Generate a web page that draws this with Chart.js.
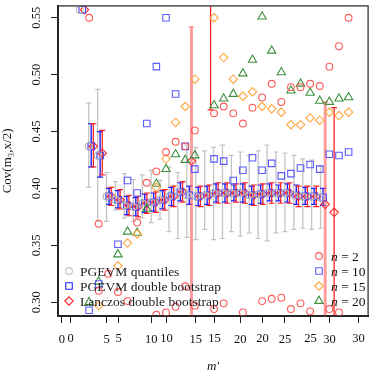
<!DOCTYPE html>
<html>
<head>
<meta charset="utf-8">
<script src="https://cdn.jsdelivr.net/npm/chart.js@4.4.1/dist/chart.umd.min.js"></script>
<style>
  html, body { margin: 0; padding: 0; background: #fff; }
</style>
</head>
<body>
<canvas id="chart" width="374" height="374"></canvas>
<script>
// error-bar plot, indexed by m' (lower axis, first set of ticks)
const mPrime    = [2, 3, 4, 5, 6, 7, 8, 9, 10, 11, 12, 13, 14, 15, 16, 17, 18, 19, 20, 21, 22, 23, 24, 25, 26, 27, 28, 29, 30];
const quantEst  = [0.557, 0.437, 0.429, 0.393, 0.390, 0.385, 0.384, 0.387, 0.388, 0.390, 0.393, 0.397, 0.394, 0.393, 0.394, 0.396, 0.396, 0.396, 0.396, 0.394, 0.395, 0.396, 0.396, 0.396, 0.394, 0.393, 0.393, 0.392, null];
const quantLo   = [null, 0.401, 0.371, 0.371, 0.381, 0.374, 0.371, 0.374, 0.370, 0.373, 0.362, 0.356, 0.357, 0.355, 0.364, 0.355, 0.356, 0.362, 0.358, 0.361, 0.356, 0.354, 0.361, 0.362, 0.364, 0.365, 0.364, 0.365, null];
const quantHi   = [null, 0.475, 0.487, 0.414, 0.406, 0.413, 0.408, 0.412, 0.416, 0.407, 0.419, 0.414, 0.438, 0.436, 0.433, 0.436, 0.438, 0.429, 0.432, 0.429, 0.433, 0.438, 0.432, 0.431, 0.429, 0.426, 0.425, 0.420, null];
const bootEst   = [0.557, 0.437, 0.429, 0.393, 0.390, 0.385, 0.384, 0.387, 0.388, 0.390, 0.393, 0.397, 0.394, 0.393, 0.394, 0.396, 0.396, 0.396, 0.396, 0.394, 0.395, 0.396, 0.396, 0.396, 0.394, 0.393, 0.393, 0.392, null];
const bootLo    = [null, 0.419, 0.410, 0.386, 0.383, 0.377, 0.376, 0.379, 0.380, 0.382, 0.385, 0.389, 0.386, 0.385, 0.386, 0.388, 0.388, 0.389, 0.388, 0.386, 0.387, 0.389, 0.389, 0.388, 0.386, 0.386, 0.386, 0.385, null];
const bootHi    = [null, 0.457, 0.450, 0.400, 0.398, 0.393, 0.392, 0.395, 0.396, 0.398, 0.401, 0.405, 0.402, 0.401, 0.402, 0.404, 0.404, 0.403, 0.404, 0.402, 0.403, 0.404, 0.403, 0.404, 0.403, 0.401, 0.400, 0.400, 0.399, null];
const lanEst    = [0.557, 0.437, 0.431, 0.393, 0.390, 0.385, 0.384, 0.387, 0.388, 0.390, 0.393, 0.397, 0.424, 0.393, 0.394, 0.396, 0.396, 0.396, 0.396, 0.394, 0.395, 0.396, 0.396, 0.396, 0.393, 0.393, 0.393, 0.386, 0.379];
const lanLo     = [null, 0.419, 0.412, 0.385, 0.382, 0.376, 0.375, 0.378, 0.379, 0.381, 0.384, 0.388, 0.250, 0.384, 0.385, 0.387, 0.387, 0.388, 0.387, 0.385, 0.386, 0.387, 0.387, 0.387, 0.384, 0.384, 0.384, 0.250, 0.250];
const lanHi     = [null, 0.457, 0.451, 0.401, 0.399, 0.394, 0.393, 0.396, 0.397, 0.399, 0.402, 0.406, 0.542, 0.402, 0.403, 0.405, 0.405, 0.404, 0.405, 0.403, 0.404, 0.405, 0.405, 0.405, 0.402, 0.402, 0.402, 0.476, 0.471];
const strayX    = [16.67];
const strayLo   = [0.469];
const strayHi   = [0.600];

// scatter plot, indexed by m (lower axis, second set of ticks)
const mVals  = [2, 3, 4, 5, 6, 7, 8, 9, 10, 11, 12, 13, 14, 15, 16, 17, 18, 19, 20, 21, 22, 23, 24, 25, 26, 27, 28, 29];
const n2     = [0.550, 0.369, 0.325, 0.309, 0.301, 0.370, 0.405, 0.415, 0.432, 0.441, 0.437, 0.451, null, 0.466, 0.472, 0.466, 0.457, 0.471, 0.480, 0.492, 0.476, 0.489, 0.489, 0.492, 0.490, 0.507, 0.525, 0.550];
const n2LowM = [3, 9, 10, 11, 12, 13, 15, 16, 18, 20, 21, 22, 23, 24, 25, 27, 28];
const n2Low  = [0.310, 0.289, 0.291, 0.296, 0.314, 0.297, 0.294, 0.299, 0.291, 0.301, 0.303, 0.304, 0.294, 0.299, 0.292, 0.294, 0.291];
const n10    = [0.293, 0.316, null, 0.351, 0.407, 0.396, 0.457, 0.507, 0.550, 0.483, 0.437, 0.417, null, 0.426, 0.424, 0.407, 0.416, 0.427, 0.416, 0.422, 0.411, 0.413, 0.418, 0.421, 0.417, 0.430, 0.429, 0.432];
const n15    = [null, 0.297, null, 0.332, 0.352, 0.360, null, 0.401, 0.426, 0.458, 0.472, 0.496, null, 0.550, 0.515, 0.496, 0.481, 0.485, 0.472, 0.470, 0.467, 0.456, 0.456, 0.462, 0.460, 0.467, 0.464, 0.467];
const n20    = [0.300, 0.318, null, 0.342, 0.362, 0.361, 0.382, 0.404, 0.417, 0.430, 0.425, 0.429, null, 0.473, 0.479, 0.483, 0.501, 0.513, 0.551, 0.521, 0.502, 0.486, 0.492, 0.484, 0.477, 0.476, 0.479, 0.480];

const xTicks  = [0, 5, 10, 15, 20, 25, 30];
const yTicks  = [0.30, 0.35, 0.40, 0.45, 0.50, 0.55];
const legendA = ['PGEVM quantiles', 'PGEVM double bootstrap', 'Lanczos double bootstrap'];
const legendB = ['2', '10', '15', '20'];

const SERIF = "'Liberation Serif', 'DejaVu Serif', serif";
const C = {
    n2: '#ff5a5a', n10: '#5a5aff', n15: '#ffa640', n20: '#3d8f3d',
    quant: '#c4c4c4', boot: '#1f1fff', lan: '#ff2424', pink: 'rgba(255,90,90,0.6)'
};
const dodge = { quant: 0, boot: 0.28, lan: 0.52 };
const pinkBars = [14, 29];

const pts = (xs, ys, dx) => xs.map((x, i) => ys[i] == null ? null : { x: x + (dx || 0), y: ys[i] }).filter(Boolean);

function sDs(label, data, color, style, r, xAxisID) {
    return {
        label, data, xAxisID, yAxisID: 'y',
        pointStyle: style, pointRadius: r, pointHoverRadius: r,
        borderColor: color, backgroundColor: 'rgba(0,0,0,0)', pointBorderWidth: 1.1
    };
}

const errorBars = {
    id: 'errorBars',
    beforeDatasetsDraw(chart) {
        const { ctx, chartArea: a } = chart;
        const xs = chart.scales.x, ys = chart.scales.y;
        ctx.save();
        ctx.beginPath();
        ctx.rect(a.left, a.top, a.right - a.left, a.bottom - a.top);
        ctx.clip();
        const bar = (xv, lo, hi, color, w, cap) => {
            const px = xs.getPixelForValue(xv);
            const p1 = ys.getPixelForValue(lo), p2 = ys.getPixelForValue(hi);
            ctx.strokeStyle = color;
            ctx.lineWidth = w;
            ctx.beginPath();
            ctx.moveTo(px, p1); ctx.lineTo(px, p2);
            ctx.stroke();
            ctx.lineWidth = 1.2;
            ctx.beginPath();
            ctx.moveTo(px - cap, p1); ctx.lineTo(px + cap, p1);
            ctx.moveTo(px - cap, p2); ctx.lineTo(px + cap, p2);
            ctx.stroke();
        };
        mPrime.forEach((m, i) => {
            if (quantLo[i] != null) bar(m + dodge.quant, quantLo[i], quantHi[i], C.quant, 1.3, 2.5);
        });
        mPrime.forEach((m, i) => {
            if (bootLo[i] != null) bar(m + dodge.boot, bootLo[i], bootHi[i], C.boot, 1.4, 3);
        });
        mPrime.forEach((m, i) => {
            if (lanLo[i] == null) return;
            if (pinkBars.includes(m)) bar(m + dodge.lan, lanLo[i], lanHi[i], C.pink, 3, 3);
            else bar(m + dodge.lan, lanLo[i], lanHi[i], C.lan, 1.3, 3);
        });
        strayX.forEach((x, i) => bar(x, strayLo[i], strayHi[i], C.lan, 1.3, 3));
        ctx.restore();
    }
};

const decor = {
    id: 'decor',
    afterDraw(chart) {
        const { ctx, chartArea: a } = chart;
        const xb = chart.scales.xB, ys = chart.scales.y;
        const H = Chart.helpers;
        ctx.save();
        // frame
        ctx.strokeStyle = '#333';
        ctx.lineWidth = 1.3;
        ctx.strokeRect(a.left, a.top, a.right - a.left, a.bottom - a.top);
        // second set of x ticks
        ctx.fillStyle = '#111';
        ctx.strokeStyle = '#222';
        ctx.lineWidth = 1;
        ctx.font = '12.5px ' + SERIF;
        ctx.textAlign = 'center';
        ctx.textBaseline = 'top';
        xTicks.forEach(v => {
            const px = Math.round(xb.getPixelForValue(v)) + 0.5;
            ctx.beginPath();
            ctx.moveTo(px, a.bottom); ctx.lineTo(px, a.bottom + 7);
            ctx.stroke();
            ctx.fillText(String(v), px, a.bottom + 16);
        });
        // rotated y tick labels
        ctx.textBaseline = 'middle';
        yTicks.forEach(v => {
            ctx.save();
            ctx.translate(37, ys.getPixelForValue(v));
            ctx.rotate(-Math.PI / 2);
            ctx.fillText(v.toFixed(2), 0, 0);
            ctx.restore();
        });
        // legend, bottom left
        ctx.textAlign = 'left';
        ctx.font = '13.5px ' + SERIF;
        const styA = [['circle', C.quant, 3.4], ['rect', C.boot, 4.6], ['rectRot', C.lan, 4.2]];
        legendA.forEach((t, i) => {
            const y = 271 + i * 15;
            ctx.strokeStyle = styA[i][1];
            ctx.fillStyle = 'rgba(0,0,0,0)';
            ctx.lineWidth = 1.1;
            H.drawPoint(ctx, { pointStyle: styA[i][0], radius: styA[i][2], borderWidth: 1.1 }, 69, y);
            ctx.fillStyle = '#222';
            ctx.fillText(t, 80, y + 1);
        });
        // legend, bottom right
        const styB = [['circle', C.n2, 3.4], ['rect', C.n10, 4.6], ['rectRot', C.n15, 4.2], ['triangle', C.n20, 4.8]];
        legendB.forEach((t, i) => {
            const y = 256 + i * 15;
            ctx.strokeStyle = styB[i][1];
            ctx.fillStyle = 'rgba(0,0,0,0)';
            ctx.lineWidth = 1.1;
            H.drawPoint(ctx, { pointStyle: styB[i][0], radius: styB[i][2], borderWidth: 1.1 }, 319, y);
            ctx.fillStyle = '#111';
            ctx.font = 'italic 13.5px ' + SERIF;
            ctx.fillText('n', 331, y + 1);
            const w = ctx.measureText('n').width;
            ctx.font = '13.5px ' + SERIF;
            ctx.fillText(' = ' + t, 331 + w, y + 1);
        });
        ctx.restore();
    }
};

const axisGrid = { drawOnChartArea: false, drawTicks: true, tickLength: 7, color: '#222', tickWidth: 1 };

new Chart(document.getElementById('chart'), {
    type: 'scatter',
    data: {
        datasets: [
            sDs('n = 2', pts(mVals, n2).concat(pts(n2LowM, n2Low)), C.n2, 'circle', 3.4, 'xB'),
            sDs('n = 10', pts(mVals, n10), C.n10, 'rect', 4.6, 'xB'),
            sDs('n = 15', pts(mVals, n15), C.n15, 'rectRot', 4.2, 'xB'),
            sDs('n = 20', pts(mVals, n20), C.n20, 'triangle', 4.8, 'xB'),
            sDs(legendA[0], pts(mPrime, quantEst, dodge.quant), '#b4b4b4', 'circle', 3.4, 'x'),
            sDs(legendA[1], pts(mPrime, bootEst, dodge.boot), '#4a4aff', 'rect', 4.6, 'x'),
            sDs(legendA[2], pts(mPrime, lanEst, dodge.lan), C.lan, 'rectRot', 4.2, 'x')
        ]
    },
    options: {
        responsive: false,
        animation: false,
        layout: { padding: { top: 1, right: 3, left: 0, bottom: 0 } },
        plugins: { legend: { display: false }, tooltip: { enabled: false } },
        scales: {
            x: {
                type: 'linear', min: -0.444, max: 34.33,
                afterBuildTicks: s => { s.ticks = xTicks.map(v => ({ value: v })); },
                afterFit: s => { s.height = 58; },
                grid: axisGrid,
                border: { display: true, color: '#111', width: 2 },
                ticks: { color: '#111', font: { family: SERIF, size: 12.5 }, padding: 9, maxRotation: 0, autoSkip: false },
                title: { display: true, text: "m'", color: '#111', font: { family: SERIF, size: 13, style: 'italic' }, padding: { top: 0, bottom: 0 } }
            },
            xB: { type: 'linear', display: false, min: -1.237, max: 31.03 },
            y: {
                type: 'linear', min: 0.2879, max: 0.5604,
                afterBuildTicks: s => { s.ticks = yTicks.map(v => ({ value: v })); },
                afterFit: s => { s.width = 58; },
                grid: axisGrid,
                border: { display: true, color: '#111', width: 2 },
                ticks: { display: false },
                title: { display: true, text: 'Cov(m₃,x/2)', color: '#111', font: { family: SERIF, size: 13 }, padding: { top: 0, bottom: 0 } }
            }
        }
    },
    plugins: [errorBars, decor]
});
</script>
</body>
</html>
